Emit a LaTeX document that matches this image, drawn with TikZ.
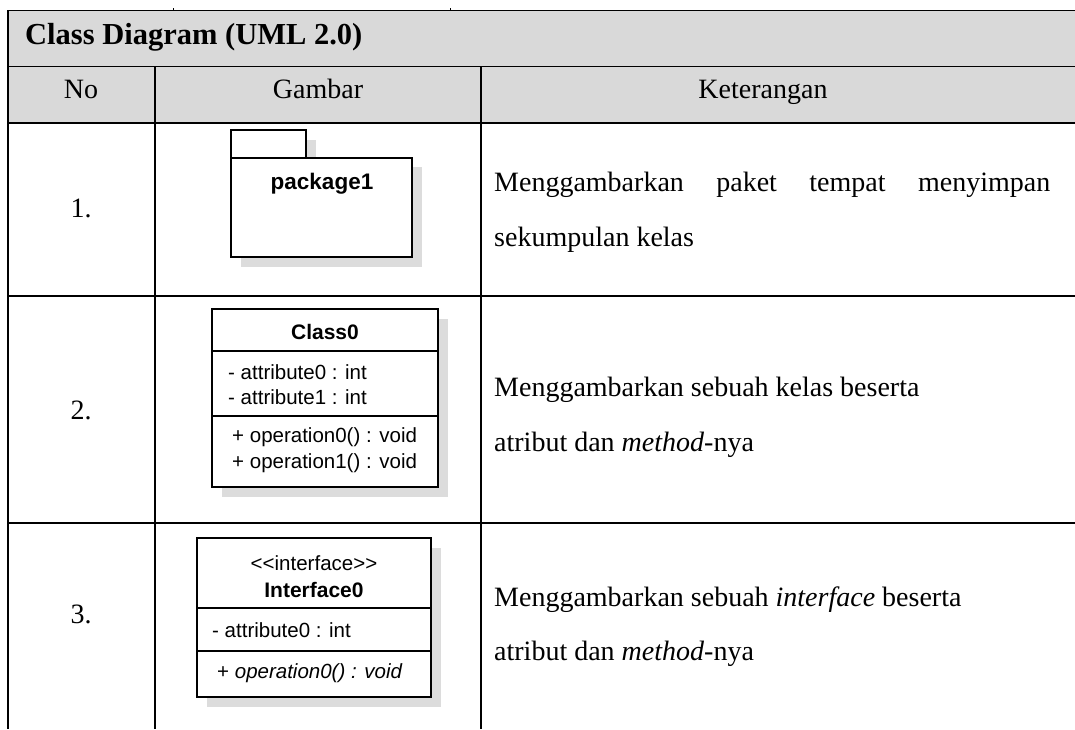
\documentclass[tikz,border=0pt]{standalone}
\usepackage{fontspec}
\setmainfont{Liberation Serif}
\newfontfamily\umlfont{Liberation Sans}
\definecolor{headgray}{HTML}{D9D9D9}
\definecolor{shadowgray}{HTML}{DCDCDC}
\begin{document}
\begin{tikzpicture}[x=1pt,y=-1pt,
  thin line/.style={line width=1pt},
  thick line/.style={line width=2pt},
  col line/.style={line width=1.5pt},
  body/.style={font=\fontsize{28}{34}\selectfont, inner sep=0pt},
  headb/.style={font=\bfseries\fontsize{30.5}{36}\selectfont, inner sep=0pt},
  uml/.style={font=\umlfont\fontsize{20.5}{24}\selectfont, inner sep=0pt},
  umlb/.style={font=\umlfont\bfseries\fontsize{21}{24}\selectfont, inner sep=0pt},
  pkgb/.style={font=\umlfont\bfseries\fontsize{22.5}{26}\selectfont, inner sep=0pt},
  umlbox/.style={draw, line width=2.6pt, fill=white},
  shade/.style={fill=shadowgray, draw=none},
  sep/.style={line width=1.2pt}]
\useasboundingbox (0,0) rectangle (1075,729);
% header fill
\fill[headgray] (8,10) rectangle (1075,123);
% grid
\draw[thin line] (8,10) -- (1075,10);
\draw[thin line] (173,8) -- (173,10);
\draw[thin line] (450,8) -- (450,10);
\draw[thin line] (8,66) -- (1075,66);
\draw[thick line] (8,123) -- (1075,123);
\draw[thick line] (8,296) -- (1075,296);
\draw[thick line] (8,523) -- (1075,523);
\draw[col line] (8,10) -- (8,729);
\draw[col line] (155,66) -- (155,729);
\draw[col line] (481,66) -- (481,729);
% header text
\node[headb, anchor=base west] (title) at (25,44) {Class Diagram (UML 2.0)};
\node[body, anchor=base] (hno) at (81,98) {No};
\node[body, anchor=base] (hgb) at (318,98) {Gambar};
\node[body, anchor=base] (hket) at (763,98) {Keterangan};
% row numbers
\node[body, anchor=base] (n1) at (81,217) {1.};
\node[body, anchor=base] (n2) at (81,419) {2.};
\node[body, anchor=base] (n3) at (81,623) {3.};
% descriptions
\node[body, anchor=base west] (d1a) at (494,191) {\makebox[556pt][s]{Menggambarkan paket tempat menyimpan}};
\node[body, anchor=base west] (d1b) at (494,246) {sekumpulan kelas};
\node[body, anchor=base west] (d2a) at (494,396) {Menggambarkan sebuah kelas beserta};
\node[body, anchor=base west] (d2b) at (494,451) {atribut dan \textit{method}-nya};
\node[body, anchor=base west] (d3a) at (494,606) {Menggambarkan sebuah \textit{interface} beserta};
\node[body, anchor=base west] (d3b) at (494,660) {atribut dan \textit{method}-nya};
% package
\fill[shade] (241,140) rectangle (316,167);
\fill[shade] (241,167) rectangle (422,267);
\draw[umlbox] (231,130) rectangle (306,158);
\draw[umlbox] (231,158) rectangle (412,257);
\node[pkgb] (pkg) at (322,184) {package1};
% class
\fill[shade] (222,319) rectangle (448,497);
\draw[umlbox] (212,309) rectangle (438,487);
\draw[sep] (212,351) -- (438,351);
\draw[sep] (212,416) -- (438,416);
\node[umlb] (cname) at (325,332) {Class0};
\node[uml, anchor=west] (ca0) at (228,372) {- attribute0 : int};
\node[uml, anchor=west] (ca1) at (228,397) {- attribute1 : int};
\node[uml, anchor=west] (co0) at (232,437) {+ operation0() : void};
\node[uml, anchor=west] (co1) at (232,463) {+ operation1() : void};
% interface
\fill[shade] (207,548) rectangle (441,707);
\draw[umlbox] (197,538) rectangle (431,697);
\draw[sep] (197,608) -- (431,608);
\draw[sep] (197,651) -- (431,651);
\node[uml] (stereo) at (314,563) {<{}<interface>{}>};
\node[umlb] (iname) at (314,590) {Interface0};
\node[uml, anchor=west] (ia0) at (212,630) {- attribute0 : int};
\node[uml, anchor=west] (io0) at (217,673) {+ \textit{operation0() : void}};
\end{tikzpicture}
\end{document}
